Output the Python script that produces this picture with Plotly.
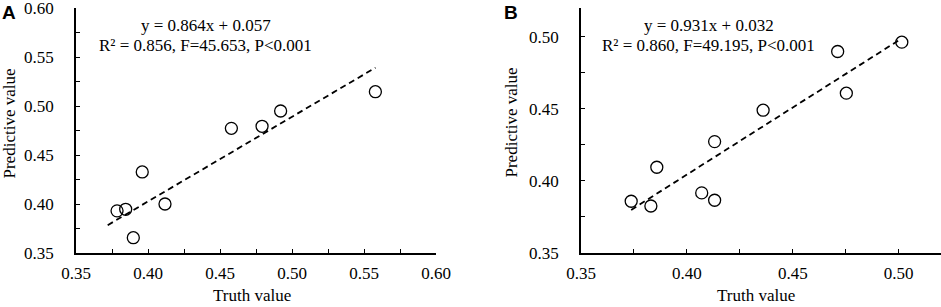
import plotly.graph_objects as go

# ---- Data ----
truth_A = [0.3785, 0.3845, 0.3898, 0.3960, 0.4118, 0.4579, 0.4792, 0.4921, 0.5579]
pred_A = [0.3930, 0.3946, 0.3656, 0.4327, 0.4000, 0.4772, 0.4793, 0.4949, 0.5146]
slope_A, intercept_A = 0.864, 0.057
fit_range_A = [0.372, 0.558]
eq_A = ["y = 0.864x + 0.057", "R² = 0.856, F=45.653, P<0.001"]

truth_B = [0.3737, 0.3830, 0.3858, 0.4070, 0.4131, 0.4131, 0.4360, 0.4712, 0.4753, 0.5015]
pred_B = [0.3859, 0.3826, 0.4095, 0.3917, 0.3866, 0.4273, 0.4491, 0.4898, 0.4609, 0.4963]
slope_B, intercept_B = 0.931, 0.032
fit_range_B = [0.3737, 0.501]
eq_B = ["y = 0.931x + 0.032", "R² = 0.860, F=49.195, P<0.001"]

ticks_A = [0.35, 0.40, 0.45, 0.50, 0.55, 0.60]
ticks_B = [0.35, 0.40, 0.45, 0.50]

W, H = 941, 307
SERIF = "Liberation Serif"
FS = 17

fig = go.Figure()

def add_panel(xa, ya, tx, py, rng, slope, icpt):
    fig.add_trace(go.Scatter(
        x=tx, y=py, mode="markers", xaxis=xa, yaxis=ya,
        marker=dict(symbol="circle-open", size=12, color="black", line=dict(width=1.3, color="black")),
        showlegend=False, hoverinfo="x+y", cliponaxis=False))
    fig.add_trace(go.Scatter(
        x=rng, y=[slope * v + icpt for v in rng], mode="lines", xaxis=xa, yaxis=ya,
        line=dict(color="black", width=1.8, dash="6px,4px"),
        showlegend=False, hoverinfo="skip"))

add_panel("x", "y", truth_A, pred_A, fit_range_A, slope_A, intercept_A)
add_panel("x2", "y2", truth_B, pred_B, fit_range_B, slope_B, intercept_B)

ydom = [(H - 253) / H, (H - 8) / H]

def axis(dom, rng, tv, anchor, standoff):
    return dict(
        domain=dom, range=rng, anchor=anchor, automargin=False,
        tickvals=tv, ticktext=[f"{v:.2f}" for v in tv],
        ticks="inside", ticklen=4, tickwidth=1.3, tickcolor="black",
        minor=dict(ticks="inside", dtick=0.025, tick0=0.35, ticklen=4, tickwidth=1.3, tickcolor="black"),
        showline=True, linecolor="black", linewidth=1.8,
        showgrid=False, zeroline=False,
        tickfont=dict(family=SERIF, size=FS, color="black"),
        ticklabelstandoff=standoff, ticklabeloverflow="allow",
    )

fig.update_layout(
    width=W, height=H,
    font=dict(family=SERIF, size=FS, color="black"),
    margin=dict(l=0, r=0, t=0, b=0, autoexpand=False),
    paper_bgcolor="white", plot_bgcolor="white",
    xaxis=axis([76 / W, 436 / W], [0.35, 0.60], ticks_A, "y", 4),
    yaxis=axis(ydom, [0.35, 0.60], ticks_A, "x", 17),
    xaxis2=axis([581 / W, 1.0], [0.35, 0.52], ticks_B, "y2", 4),
    yaxis2=axis(ydom, [0.35, 0.52], ticks_B, "x2", 17),
)

def txt(x, y, s, size=FS, family=SERIF, angle=0, yanchor="middle"):
    fig.add_annotation(
        x=x / W, y=1 - y / H, xref="paper", yref="paper",
        text=s, showarrow=False, xanchor="center", yanchor=yanchor,
        textangle=angle, font=dict(family=family, size=size, color="black"))

# panel letters
txt(8.5, 0, "<b>A</b>", size=19, family="Liberation Sans", yanchor="top")
txt(510.5, 0, "<b>B</b>", size=19, family="Liberation Sans", yanchor="top")

# equations
txt(205.5, 25.7, eq_A[0])
txt(205.0, 45.7, eq_A[1])
txt(708.5, 25.7, eq_B[0])
txt(708.3, 45.0, eq_B[1])

# axis titles
txt(252, 307, "Truth value", yanchor="bottom")
txt(9, 123.5, "Predictive value", angle=-90)
txt(756, 307, "Truth value", yanchor="bottom")
txt(511.5, 123, "Predictive value", angle=-90)

fig.write_html(
    "out.html",
    config={"displayModeBar": False},
    post_script="document.body.style.margin='0';document.body.style.overflow='hidden';",
)
